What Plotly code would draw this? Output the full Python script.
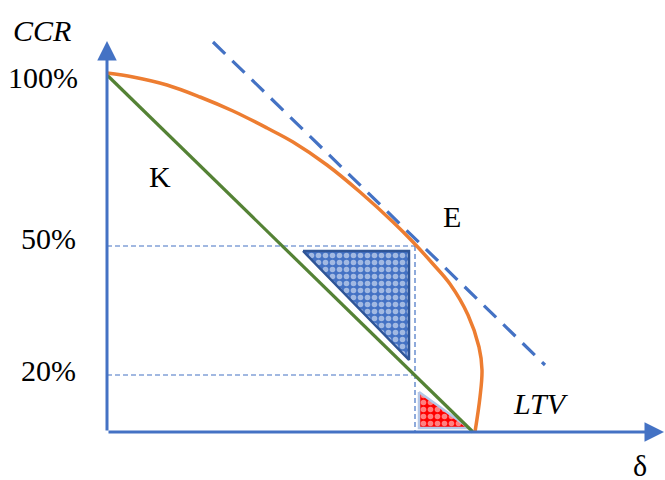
import plotly.graph_objects as go

# Schematic units (origin at the axes corner)
orange_x = [0, 26, 60, 93, 126, 160, 186, 220, 253, 286, 306, 326, 343, 361, 372, 375, 373, 368]
orange_y = [359, 355, 347, 335, 321, 304, 290, 267, 240, 210, 190, 168, 148, 117, 85, 62, 35, 0]
green_x = [0, 366]
green_y = [357, 0]
tangent_x = [106, 438]
tangent_y = [390, 67]
guide50_x = [0, 308]
guide50_y = [186, 186]
guide20_x = [0, 308]
guide20_y = [57, 57]
guidev_x = [308, 308]
guidev_y = [186, 0]
blue_tri_x = [196, 302, 302, 196]
blue_tri_y = [181, 181, 72, 181]
red_tri_x = [312, 312, 362, 312]
red_tri_y = [40, 4, 4, 40]
tick_labels = ["100%", "50%", "20%"]
tick_pos = [[-64, 355], [-59, 194], [-59, 62]]
labels = ["K", "E"]
label_pos = [[53, 256], [345, 216]]

BLUE = "#4472C4"
fig = go.Figure()
for gx, gy in [(guide50_x, guide50_y), (guide20_x, guide20_y), (guidev_x, guidev_y)]:
    fig.add_trace(go.Scatter(x=gx, y=gy, mode="lines",
                             line=dict(color=BLUE, width=1.2, dash="5px,3px")))
fig.add_trace(go.Scatter(x=blue_tri_x, y=blue_tri_y, mode="lines", fill="toself",
                         fillcolor="white",
                         fillpattern=dict(shape=".", fgcolor="#ffffff", bgcolor="#4472C4",
                                          size=7, solidity=0.5),
                         line=dict(color="#2F5597", width=2.5)))
fig.add_trace(go.Scatter(x=red_tri_x, y=red_tri_y, mode="lines", fill="toself",
                         fillcolor="white",
                         fillpattern=dict(shape=".", fgcolor="#ffffff", bgcolor="#FF0000",
                                          size=7, solidity=0.5),
                         line=dict(color="#B4C7E7", width=2.5)))
fig.add_trace(go.Scatter(x=green_x, y=green_y, mode="lines",
                         line=dict(color="#548235", width=3.2)))
fig.add_trace(go.Scatter(x=orange_x, y=orange_y, mode="lines",
                         line=dict(color="#ED7D31", width=3.5, shape="spline")))
fig.add_trace(go.Scatter(x=tangent_x, y=tangent_y, mode="lines",
                         line=dict(color=BLUE, width=3.2, dash="17px,10px")))

ann = []
# axes with arrows
ann.append(dict(x=0, y=391, ax=0, ay=0, xref="x", yref="y", axref="x", ayref="y",
                showarrow=True, arrowhead=2, arrowsize=1.3, arrowwidth=3,
                arrowcolor=BLUE, text=""))
ann.append(dict(x=557, y=0, ax=0, ay=0, xref="x", yref="y", axref="x", ayref="y",
                showarrow=True, arrowhead=2, arrowsize=1.3, arrowwidth=3,
                arrowcolor=BLUE, text=""))
serif = "Liberation Serif"
FS = 30
for t, (x, y) in zip(tick_labels, tick_pos):
    ann.append(dict(x=x, y=y, text=t, showarrow=False, xref="x", yref="y",
                    font=dict(family=serif, size=FS, color="black")))
for t, (x, y) in zip(labels, label_pos):
    ann.append(dict(x=x, y=y, text=t, showarrow=False, xref="x", yref="y",
                    font=dict(family=serif, size=FS, color="black")))
ann.append(dict(x=-65, y=402, text="<i>CCR</i>", showarrow=False,
                font=dict(family=serif, size=FS, color="black")))
ann.append(dict(x=434, y=29, text="<i>LTV</i>", showarrow=False,
                font=dict(family=serif, size=FS, color="black")))
ann.append(dict(x=533, y=-33, text="δ", showarrow=False,
                font=dict(family=serif, size=FS, color="black")))

fig.update_layout(
    width=665, height=480,
    margin=dict(l=0, r=0, t=0, b=0, autoexpand=False),
    paper_bgcolor="white", plot_bgcolor="white",
    showlegend=False,
    annotations=ann,
    xaxis=dict(range=[-107, 558], visible=False, fixedrange=True),
    yaxis=dict(range=[-48, 432], visible=False, fixedrange=True),
)
fig.write_html("out.html", config={"displayModeBar": False},
               post_script="document.body.style.margin='0';document.body.style.overflow='hidden';")
